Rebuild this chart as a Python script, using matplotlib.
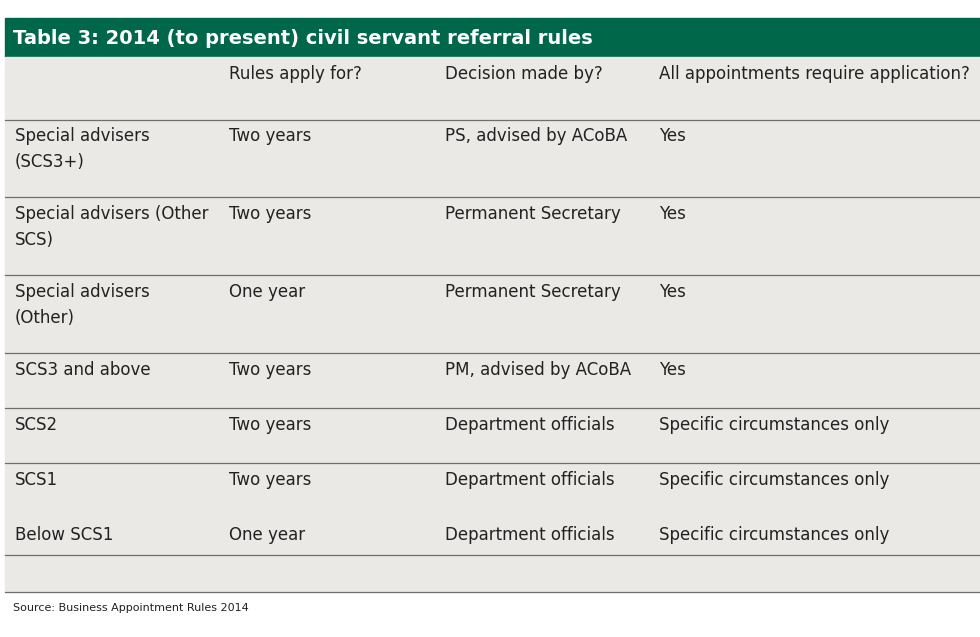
import matplotlib.pyplot as plt
from matplotlib.patches import Rectangle

title = "Table 3: 2014 (to present) civil servant referral rules"
headers = ["", "Rules apply for?", "Decision made by?", "All appointments require application?"]
roles = ["Special advisers\n(SCS3+)", "Special advisers (Other\nSCS)", "Special advisers\n(Other)",
         "SCS3 and above", "SCS2", "SCS1", "Below SCS1"]
durations = ["Two years", "Two years", "One year", "Two years", "Two years", "Two years", "One year"]
deciders = ["PS, advised by ACoBA", "Permanent Secretary", "Permanent Secretary",
            "PM, advised by ACoBA", "Department officials", "Department officials", "Department officials"]
applications = ["Yes", "Yes", "Yes", "Yes", "Specific circumstances only",
                "Specific circumstances only", "Specific circumstances only"]
source = "Source: Business Appointment Rules 2014"

green = "#00674a"
grey = "#ebe9e6"
line = "#6e6e6e"

fig = plt.figure(figsize=(9.8, 6.37), dpi=100)
ax = fig.add_axes([0, 0, 1, 1])
ax.set_xlim(0, 980)
ax.set_ylim(637, 0)
ax.axis("off")

ax.add_patch(Rectangle((5, 18), 975, 39, color=green))
ax.text(13, 38, title, color="white", fontsize=14, fontweight="bold", va="center", family="DejaVu Sans")
ax.add_patch(Rectangle((5, 57), 975, 535, color=grey))

col_x = [15, 229, 445, 659]
fs = 12
for x, h in zip(col_x, headers):
    ax.text(x, 74, h, fontsize=fs, va="center", color="#222222")

row_tops = [136, 214, 292, 370, 425, 480, 535]
for i, y in enumerate(row_tops):
    for x, val in zip(col_x, [roles[i], durations[i], deciders[i], applications[i]]):
        ax.text(x, y - 9, val, fontsize=fs, va="top", color="#222222", linespacing=1.55)

for y in [120, 197, 275, 353, 408, 463, 555, 592]:
    ax.plot([5, 980], [y, y], color=line, lw=0.9)

ax.text(13, 608, source, fontsize=8, va="center", color="#222222")

fig.savefig("out.png", dpi=100)
